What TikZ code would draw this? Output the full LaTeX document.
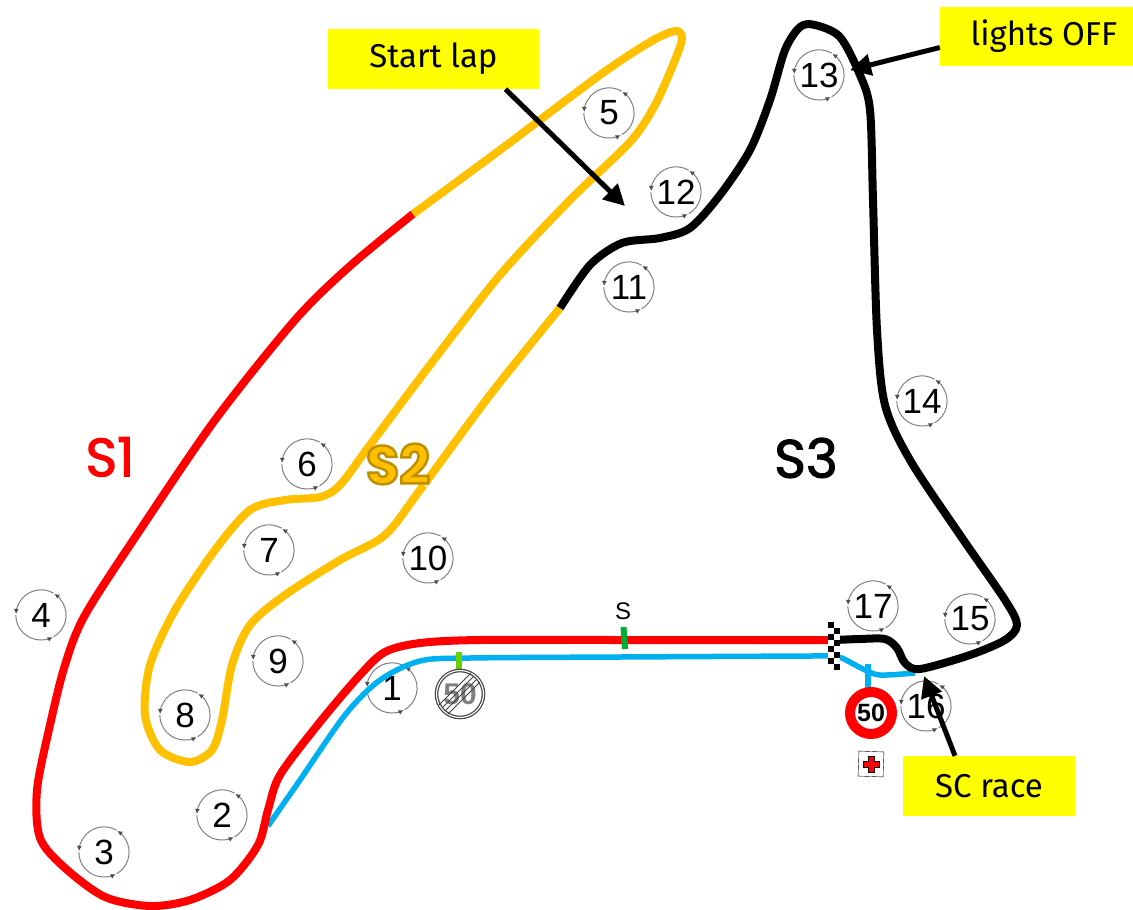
\documentclass[tikz,border=0pt]{standalone}
\usepackage{fontspec}
\setmainfont{Liberation Sans}
\newfontfamily\boxfont{Fira Sans}
\newfontfamily\sectorfont[FakeBold=2]{Poppins}
\newfontfamily\outlinefont{Poppins}
\usetikzlibrary{arrows.meta,positioning,calc}
\definecolor{trackred}{RGB}{255,0,0}
\definecolor{trackorange}{RGB}{255,192,0}
\definecolor{trackblue}{RGB}{0,176,240}
\definecolor{boxyellow}{RGB}{255,255,0}
\tikzset{
  track/.style={line width=8pt,line join=round},
  pit/.style={line width=5.5pt,color=trackblue,line join=round},
  callout/.style={fill=boxyellow,font=\boxfont\fontsize{33}{33}\selectfont,inner sep=0pt},
  pointer/.style={line width=5pt,-{Triangle[length=21pt,width=21pt]}},
  turnlabel/.style={circle,minimum size=50pt,inner sep=0pt,font=\fontsize{35}{35}\selectfont},
  sector/.style={font=\sectorfont\fontsize{54}{54}\selectfont},
  sign/.style={circle,draw,inner sep=0pt}
}
\newcommand{\turn}[3]{
  \node[turnlabel] (t#1) at (#2) {#3};
  \foreach \a in {-60,60,180}
    \draw[gray,line width=1pt,-{Latex[length=5pt,width=5pt,black!70]}] (t#1.\a) arc[start angle=\a,delta angle=118,radius=25pt];
}
\begin{document}
\begin{tikzpicture}[x=1pt,y=-1pt]
  \useasboundingbox (0,0) rectangle (1133,910);
  \turn{1}{392,688}{1}
  \turn{2}{222,815}{2}
  \turn{3}{104,852}{3}
  \turn{4}{41,615}{4}
  \turn{5}{609,113}{5}
  \turn{6}{307,464}{6}
  \turn{7}{269,550}{7}
  \turn{8}{185,715}{8}
  \turn{9}{278,661}{9}
  \turn{10}{428,558}{10}
  \turn{11}{629,287}{11}
  \turn{12}{676,192}{12}
  \turn{13}{819,75}{13}
  \turn{14}{922,401}{14}
  \turn{15}{970,619}{15}
  \turn{16}{926,706}{16}
  \turn{17}{873,606}{17}
  \draw[pit] plot[smooth,tension=.5] coordinates {(268,826) (300,780) (345,715) (380,680) (420,661) (470,658) (620,657) (810,656) (833,656) (842,658) (863,669) (880,675) (915,673)};
  \draw[track,trackred] plot[smooth,tension=.5] coordinates {(833,640) (620,640) (480,640) (420,643) (385,652) (360,675) (320,722) (280,775) (268,810) (258,845) (230,880) (190,900) (150,906) (105,897) (65,868) (40,838) (37,790) (50,725) (65,665) (85,615) (140,530) (215,420) (295,320) (350,266) (413,214)};
  \draw[track,trackorange] plot[smooth,tension=.5] coordinates {(413,214) (500,150) (600,75) (650,42) (675,31) (682,38) (675,60) (655,105) (630,142) (570,200) (500,275) (430,365) (370,445) (340,485) (320,497) (285,500) (250,510) (215,550) (175,610) (150,665) (145,715) (160,750) (190,762) (212,750) (222,720) (232,665) (250,625) (285,595) (340,560) (385,535) (420,490) (490,395) (560,308)};
  \draw[track,black] plot[smooth,tension=.5] coordinates {(560,308) (590,265) (622,243) (660,238) (690,228) (720,195) (750,150) (770,100) (785,50) (800,27) (815,25) (840,37) (860,75) (870,110) (873,200) (877,330) (885,405) (910,460) (960,535) (1005,600) (1017,625) (1005,640) (970,655) (920,669) (905,663) (897,648) (885,639) (860,639) (835,640)};
  \fill[white,opacity=.55,rotate around={-52:(428,487)}] (421,485) rectangle (435,489);
  \foreach \row in {0,...,7}
    \foreach \col in {0,1}
      \fill[\ifodd\numexpr\row+\col\relax white\else black\fi] ({828+6*\col},{622+6*\row}) rectangle +(6,6);
  \draw[line width=6pt,color=green!60!black!80!cyan] (623.5,627) -- (625,649);
  \node[font=\fontsize{24}{24}\selectfont] (smark) at (623,611) {S};
  \draw[line width=6pt,color=green!70!black!60!yellow] (459,652) -- (459,672);
  \draw[line width=6pt,color=trackblue] (868,664) -- (868,688);
  \node[sign,line width=10pt,draw=trackred,fill=white,minimum size=42pt,font=\bfseries\fontsize{25}{25}\selectfont] (limit) at (871,713) {50};
  \node[sign,line width=1.2pt,draw=black!75,double=white,double distance=1.2pt,fill=white,minimum size=47pt,text=gray,font=\bfseries\fontsize{30}{30}\selectfont] (endlimit) at (460,694) {50};
  \foreach \d in {-5,-2,1,4}
    \draw[black!75,line width=.8pt] ($(endlimit)+(-16+\d,16+\d)$) -- ($(endlimit)+(16+\d,-16+\d)$);
  \node[draw,fill=white,minimum size=25pt,inner sep=0pt,rotate=-2] (aid) at (871,764) {};
  \draw[fill=trackred,line width=.7pt] ($(aid)+(-3,-8)$) -- ++(6,0) -- ++(0,5) -- ++(5,0) -- ++(0,6) -- ++(-5,0) -- ++(0,5) -- ++(-6,0) -- ++(0,-5) -- ++(-5,0) -- ++(0,-6) -- ++(5,0) -- cycle;
  \node[sector,text=trackred] (s1) at (110,457) {S1};
  \node[font=\outlinefont\bfseries\fontsize{54}{54}\selectfont,text=trackorange] (s2) at (398,464) {\special{pdf:code q 2 Tr 2.5 w 0.75 0.56 0 RG}S2\special{pdf:code Q}};
  \node[sector,text=black] (s3) at (806,458) {S3};
  \node[callout,minimum width=211pt,minimum height=60pt] (startlap) at (433.5,59) {Start lap};
  \node[callout,minimum width=193pt,minimum height=59pt] (lightsoff) at (1036.5,36.5) {\hspace*{15pt}lights OFF};
  \node[callout,minimum width=172pt,minimum height=60pt] (scrace) at (989,786) {SC race};
  \coordinate (lapend) at (625,206);
  \coordinate (lightsend) at (850,70);
  \coordinate (scend) at (924,676);
  \draw[pointer] ([xshift=72pt]startlap.south) -- (lapend);
  \draw[pointer] ([yshift=-11pt]lightsoff.west) -- (lightsend);
  \draw[pointer] ([xshift=-34pt]scrace.north) -- (scend);
\end{tikzpicture}
\end{document}
